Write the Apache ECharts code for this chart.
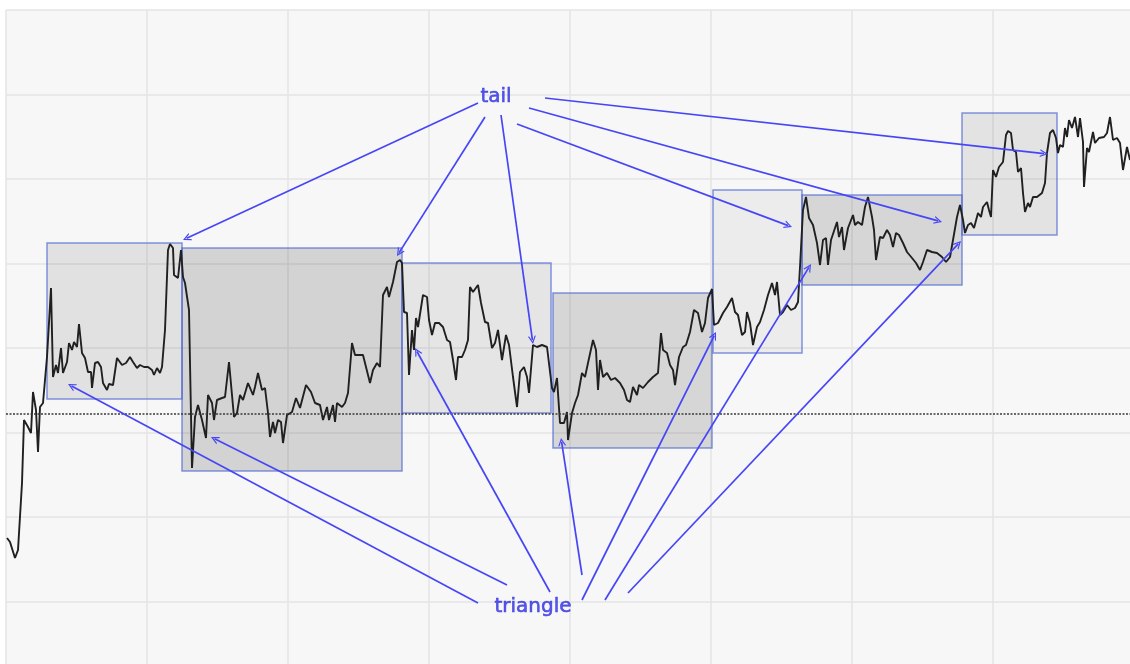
<!DOCTYPE html>
<html>
<head>
<meta charset="utf-8">
<script src="https://cdn.jsdelivr.net/npm/echarts@6/dist/echarts.min.js"></script>
<style>
  html, body { margin: 0; padding: 0; background: #ffffff; overflow: hidden; }
  /* the plot runs a little past the window on the right and bottom */
  #chart { width: 1134px; height: 686px; }
</style>
</head>
<body>
<div id="chart"></div>
<script>
// price path: time step and price
const steps = [1,4,9,12,16,18,22,25,27,30,32,34,37,41,45,47,50,52,55,57,61,63,66,68,71,73,76,79,82,85,86,89,92,95,97,101,103,107,111,116,120,124,127,131,134,138,142,146,148,151,154,156,159,162,164,167,168,172,175,177,179,181,183,186,189,192,196,200,202,206,208,211,216,219,223,228,231,234,237,242,247,249,252,256,259,262,264,267,269,272,275,277,281,286,290,294,300,305,309,314,317,321,323,327,329,331,336,339,342,346,349,357,360,364,367,371,374,377,381,383,387,391,394,396,398,401,403,406,408,410,412,417,421,423,426,429,433,437,441,444,447,450,452,456,459,462,464,467,472,475,479,482,486,489,492,496,500,503,507,511,514,518,521,523,527,531,536,541,543,546,548,551,554,558,561,562,566,569,572,576,579,582,587,590,592,594,597,601,605,609,614,618,621,624,627,631,633,637,642,647,652,655,657,661,664,667,669,673,677,680,684,688,692,696,699,702,706,708,712,715,717,721,726,729,732,736,739,741,744,747,751,754,758,762,766,769,771,774,777,781,785,789,792,794,797,800,803,807,811,814,817,820,822,825,827,831,833,836,838,842,847,849,852,856,859,862,866,868,870,874,877,881,884,887,890,893,897,901,906,910,914,917,921,926,931,936,940,944,947,951,954,957,959,962,965,968,970,972,975,977,981,983,985,987,990,993,997,1000,1002,1005,1007,1010,1012,1015,1017,1019,1022,1024,1027,1031,1036,1039,1041,1044,1047,1050,1052,1054,1057,1059,1061,1063,1066,1069,1072,1074,1077,1078,1081,1083,1087,1089,1093,1098,1101,1104,1107,1111,1114,1117,1121,1124];
const price = [148,144,128,136,203,266,259,253,294,276,234,279,283,329,398,309,321,313,338,313,324,343,336,344,339,362,333,328,314,314,298,323,324,319,303,296,302,301,328,321,323,329,324,318,321,319,319,316,311,318,313,319,356,436,442,438,411,408,436,409,403,401,376,218,269,281,266,248,291,283,266,286,288,289,324,269,273,291,286,303,291,299,313,296,298,273,249,264,253,266,264,243,271,274,288,278,301,294,283,281,266,279,266,281,264,283,279,283,293,343,331,331,319,303,316,323,319,391,399,389,404,424,426,423,374,373,311,356,336,368,359,391,389,366,351,363,363,359,346,344,326,306,329,329,336,346,399,394,401,383,364,363,338,343,356,326,351,341,309,279,314,319,309,293,341,339,341,339,338,298,294,308,263,263,274,246,273,283,291,313,309,323,346,336,296,326,309,313,306,308,303,296,286,284,299,291,301,298,304,309,313,353,336,333,321,316,301,329,339,341,354,376,373,354,363,388,397,361,363,369,373,379,388,374,371,351,354,374,363,341,359,364,376,391,403,391,404,371,374,381,376,378,384,419,476,489,468,461,443,421,446,448,421,446,444,464,449,459,436,458,471,461,464,461,479,489,469,456,426,449,448,456,451,439,453,451,443,434,428,423,416,424,436,434,433,429,424,429,446,469,481,466,453,461,463,458,459,473,469,479,484,476,469,516,509,519,524,551,555,553,536,534,514,518,493,474,483,479,489,489,493,503,533,553,556,548,533,541,539,558,549,566,558,569,549,568,544,499,538,534,554,543,548,549,553,569,546,548,543,516,539,526];

// reference level (dotted line)
const baseLevel = 272;

// consolidation boxes
const boxX0 = [41, 176, 396, 547, 707, 796, 956];
const boxX1 = [176, 396, 545, 706, 796, 956, 1051];
const boxY0 = [287, 215, 273, 238, 333, 401, 451];
const boxY1 = [443, 438, 423, 393, 496, 491, 573];
const boxFill = ['rgba(0,0,0,0.085)', 'rgba(0,0,0,0.145)', 'rgba(0,0,0,0.07)', 'rgba(0,0,0,0.135)',
  'rgba(0,0,0,0.045)', 'rgba(0,0,0,0.135)', 'rgba(0,0,0,0.08)'];

// annotation labels and arrow targets
const tailLabel = [490, 589];
const tailFrom = [[472, 583], [479, 569], [495, 571], [511, 562], [523, 578], [539, 588]];
const tailTo = [[177, 446], [391, 430], [527, 342], [786, 459], [936, 464], [1042, 532]];

const triLabel = [527, 79];
const triFrom = [[472, 83], [501, 101], [544, 94], [576, 111], [576, 86], [599, 86], [622, 93]];
const triTo = [[62, 302], [205, 249], [409, 338], [555, 248], [710, 354], [805, 422], [955, 445]];

const blue = '#4646f6';
const chevron = 'path://M0,10 L5,0 L10,10 L8.4,10 L5,3.2 L1.6,10 Z';

// pull the end back a bit so the arrow tip lands on the target
function arrow(from, to) {
  const dx = to[0] - from[0], dy = to[1] - from[1];
  const len = Math.sqrt(dx * dx + dy * dy);
  const k = (len - 4) / len;
  return { coords: [from, [from[0] + dx * k, from[1] + dy * k]] };
}

const arrows = [];
tailFrom.forEach((f, i) => arrows.push(arrow(f, tailTo[i])));
triFrom.forEach((f, i) => arrows.push(arrow(f, triTo[i])));

const areas = boxX0.map((x0, i) => [
  { xAxis: x0, yAxis: boxY0[i], itemStyle: { color: boxFill[i] } },
  { xAxis: boxX1[i], yAxis: boxY1[i] }
]);

const chart = echarts.init(document.getElementById('chart'), null, { renderer: 'canvas' });

chart.setOption({
  animation: false,
  grid: {
    left: 6, top: 10, right: 0, bottom: 0,
    show: true, backgroundColor: '#f7f7f7', borderWidth: 0
  },
  xAxis: {
    type: 'value', min: 0, max: 1128, interval: 141,
    axisLine: { show: false }, axisTick: { show: false }, axisLabel: { show: false },
    splitLine: { lineStyle: { color: '#e5e5e5', width: 1.5 } }
  },
  yAxis: {
    type: 'value', min: 0, max: 676, interval: 84.5,
    axisLine: { show: false }, axisTick: { show: false }, axisLabel: { show: false },
    splitLine: { lineStyle: { color: '#e5e5e5', width: 1.5 } }
  },
  series: [
    {
      type: 'line',
      data: steps.map((s, i) => [s, price[i]]),
      showSymbol: false,
      lineStyle: { color: '#202020', width: 1.9 },
      z: 3,
      markArea: {
        silent: true,
        itemStyle: { borderColor: 'rgba(80,105,210,0.7)', borderWidth: 1.5 },
        data: areas
      },
      markLine: {
        silent: true,
        symbol: 'none',
        label: { show: false },
        lineStyle: { color: '#3a3a3a', type: [2, 1.5], width: 1.5 },
        data: [{ yAxis: baseLevel }]
      }
    },
    {
      type: 'lines',
      coordinateSystem: 'cartesian2d',
      z: 5,
      symbol: ['none', chevron],
      symbolSize: [9, 8],
      lineStyle: { color: blue, width: 1.7, opacity: 1, curveness: 0 },
      data: arrows
    },
    {
      type: 'scatter',
      z: 6,
      symbolSize: 0,
      itemStyle: { color: 'rgba(0,0,0,0)' },
      label: {
        show: true, position: 'inside',
        fontFamily: 'DejaVu Sans', fontSize: 20, color: '#2e2ee4',
        textBorderColor: '#2e2ee4', textBorderWidth: 0.6,
        formatter: p => p.name
      },
      data: [
        { name: 'tail', value: tailLabel },
        { name: 'triangle', value: triLabel }
      ]
    }
  ]
});
</script>
</body>
</html>
